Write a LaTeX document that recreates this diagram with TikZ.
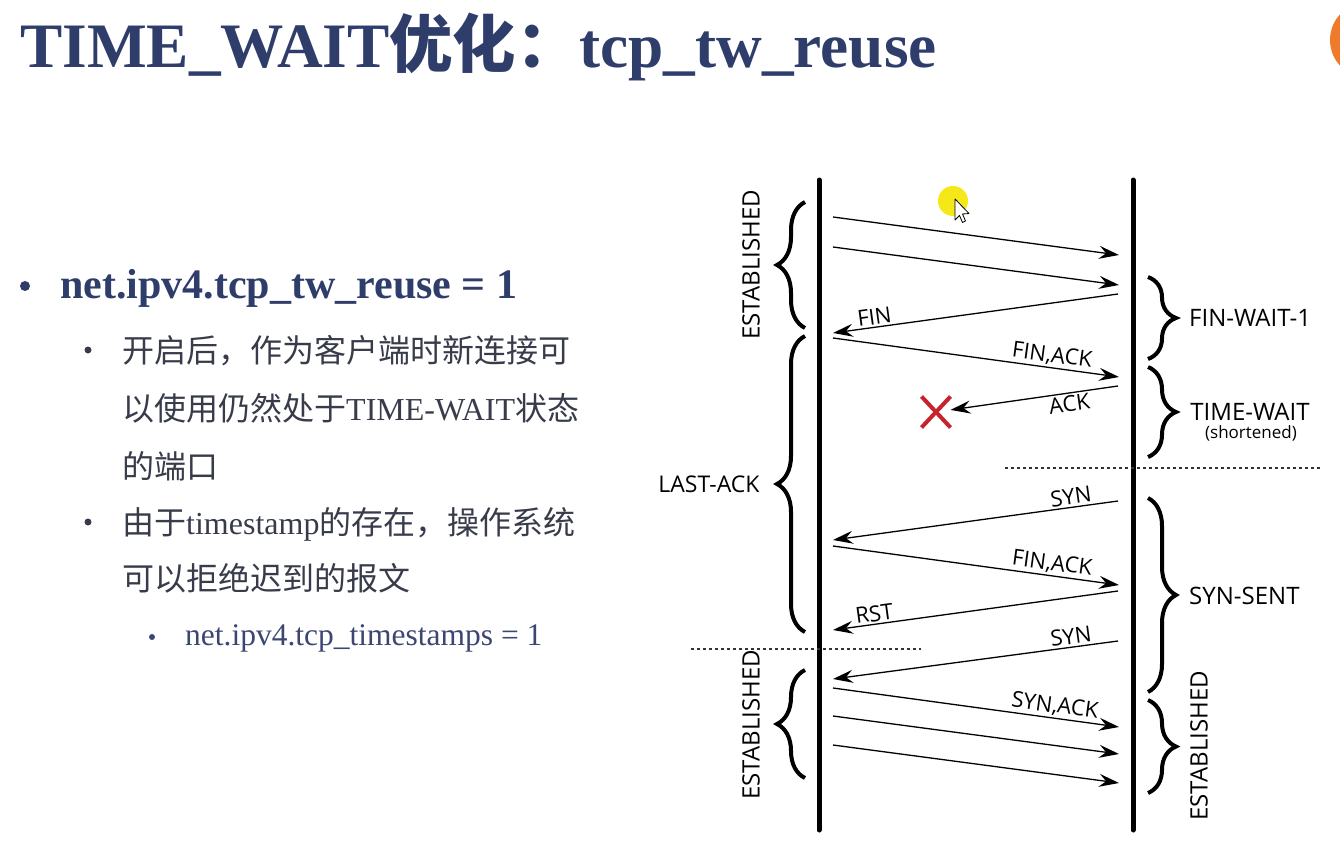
\documentclass[tikz,border=0pt]{standalone}
\usepackage{fontspec}
\setmainfont{Liberation Serif}
\newfontfamily\cjk{Noto Sans CJK SC}
\newfontfamily\diag{Open Sans}
\usetikzlibrary{arrows.meta,decorations.pathreplacing,shapes.misc}
\definecolor{navy}{HTML}{2F3D6B}
\definecolor{subgray}{HTML}{383C4A}
\definecolor{subnavy}{HTML}{3C4672}
\definecolor{xred}{HTML}{C8232C}
\definecolor{dotorange}{HTML}{EE7B2C}
\definecolor{hilite}{HTML}{F3E600}

\begin{document}
\begin{tikzpicture}[x=1pt,y=-1pt,
  lifeline/.style={line width=5pt, line cap=round},
  msg/.style={line width=1.3pt, -{Stealth[length=20pt,width=13pt,inset=7pt]}},
  lbl/.style={font=\diag\fontsize{22}{26}\selectfont, sloped, inner sep=2pt},
  statelbl/.style={font=\diag\fontsize{24}{28}\selectfont, inner sep=0pt},
  curly/.style={decorate, decoration={brace, amplitude=28pt}, line width=4pt},
  sepline/.style={line width=1.2pt, dash pattern=on 3pt off 3pt, black!80},
  dotbullet/.style={circle, inner sep=0pt, minimum size=#1},
  body/.style={anchor=base west, inner sep=0pt},
]
\useasboundingbox (0,0) rectangle (1340,859);

% slide heading
\node[body, text=navy, font=\bfseries\fontsize{63.3}{76}\selectfont] (title) at (20,67)
  {TIME\_WAIT{\cjk 优化：}tcp\_tw\_reuse};

% corner decoration
\begin{scope}
  \clip (0,0) rectangle (1340,859);
  \fill[dotorange] (1368,40) circle (38);
\end{scope}

% bullet list
\node[dotbullet=10pt, fill=navy] (b1) at (25,286) {};
\node[body, text=navy, font=\bfseries\fontsize{42}{50}\selectfont] (t1) at (60,298)
  {net.ipv4.tcp\_tw\_reuse = 1};

\node[dotbullet=7pt, fill=subgray] (b2) at (88,350) {};
\begin{scope}[every node/.style={body, text=subgray, font=\fontsize{32}{38}\selectfont}]
  \node (t2a) at (122,362) {\cjk 开启后，作为客户端时新连接可};
  \node (t2b) at (122,420) {{\cjk 以使用仍然处于}TIME-WAIT{\cjk 状态}};
  \node (t2c) at (122,478) {\cjk 的端口};
  \node (t3a) at (122,534) {{\cjk 由于}timestamp{\cjk 的存在，操作系统}};
  \node (t3b) at (122,590) {\cjk 可以拒绝迟到的报文};
\end{scope}
\node[dotbullet=7pt, fill=subgray] (b3) at (88,522) {};

\node[dotbullet=6pt, fill=subnavy] (b4) at (152,637) {};
\node[body, text=subnavy, font=\fontsize{31.5}{38}\selectfont] (t4) at (185,645)
  {net.ipv4.tcp\_timestamps = 1};

% lifelines
\coordinate (ltop) at (819,180);
\coordinate (lbot) at (819,830);
\coordinate (rtop) at (1133,180);
\coordinate (rbot) at (1133,830);
\draw[lifeline] (ltop) -- (lbot);
\draw[lifeline] (rtop) -- (rbot);

% message end points
\coordinate (l1) at (833,217);  \coordinate (r1) at (1119,255);
\coordinate (l2) at (833,247);  \coordinate (r2) at (1119,285);
\coordinate (r3) at (1118,294); \coordinate (l3) at (833,333);
\coordinate (l4) at (833,338);  \coordinate (r4) at (1119,377);
\coordinate (r5) at (1118,386);
\coordinate (r6) at (1118,501); \coordinate (l6) at (833,540);
\coordinate (l7) at (833,546);  \coordinate (r7) at (1119,585);
\coordinate (r8) at (1118,591); \coordinate (l8) at (833,630);
\coordinate (r9) at (1118,641); \coordinate (l9) at (833,679);
\coordinate (l10) at (833,688); \coordinate (r10) at (1119,727);
\coordinate (l11) at (833,716); \coordinate (r11) at (1119,754);
\coordinate (l12) at (833,745); \coordinate (r12) at (1119,783);

% the lost ACK
\node[cross out, draw=xred, line width=4pt, minimum width=25pt, minimum height=27pt, inner sep=0pt] (lost) at (936,412) {};

% messages
\draw[msg] (l1) -- (r1);
\draw[msg] (l2) -- (r2);
\draw[msg] (r3) -- node[lbl, pos=0.85, above] {FIN} (l3);
\draw[msg] (l4) -- node[lbl, pos=0.76, above] {FIN,ACK} (r4);
\draw[msg] (r5) -- node[lbl, pos=0.3, below] {ACK} (lost);
\draw[msg] (r6) -- node[lbl, pos=0.16, above] {SYN} (l6);
\draw[msg] (l7) -- node[lbl, pos=0.76, above] {FIN,ACK} (r7);
\draw[msg] (r8) -- node[lbl, pos=0.85, above] {RST} (l8);
\draw[msg] (r9) -- node[lbl, pos=0.16, above] {SYN} (l9);
\draw[msg] (l10) -- node[lbl, pos=0.77, above] {SYN,ACK} (r10);
\draw[msg] (l11) -- (r11);
\draw[msg] (l12) -- (r12);

% state braces, client side
\coordinate (cb1s) at (805,328); \coordinate (cb1e) at (805,202);
\coordinate (cb2s) at (805,632); \coordinate (cb2e) at (805,336);
\coordinate (cb3s) at (805,778); \coordinate (cb3e) at (805,670);
\draw[curly] (cb1s) -- (cb1e);
\draw[curly] (cb2s) -- (cb2e);
\draw[curly] (cb3s) -- (cb3e);
\node[statelbl, rotate=90] (est1) at (751,265) {ESTABLISHED};
\node[statelbl, font=\diag\fontsize{23}{27}\selectfont] (lastack) at (709,484) {LAST-ACK};
\node[statelbl, rotate=90] (est2) at (751,725) {ESTABLISHED};

% state braces, server side
\coordinate (sb1s) at (1148,277); \coordinate (sb1e) at (1148,359);
\coordinate (sb2s) at (1148,367); \coordinate (sb2e) at (1148,457);
\coordinate (sb3s) at (1148,498); \coordinate (sb3e) at (1148,692);
\coordinate (sb4s) at (1148,700); \coordinate (sb4e) at (1148,793);
\draw[curly] (sb1s) -- (sb1e);
\draw[curly] (sb2s) -- (sb2e);
\draw[curly] (sb3s) -- (sb3e);
\draw[curly] (sb4s) -- (sb4e);
\node[statelbl, anchor=west] (fw1) at (1189,318) {FIN-WAIT-1};
\node[statelbl] (tw) at (1250,412) {TIME-WAIT};
\node[font=\diag\fontsize{17}{20}\selectfont, inner sep=0pt] (short) at (1251,433) {(shortened)};
\node[statelbl, anchor=west] (synsent) at (1189,596) {SYN-SENT};
\node[statelbl, rotate=90] (est3) at (1199,746) {ESTABLISHED};

% phase separators
\coordinate (s1a) at (1005,468); \coordinate (s1b) at (1322,468);
\coordinate (s2a) at (691,649);  \coordinate (s2b) at (921,649);
\draw[sepline] (s1a) -- (s1b);
\draw[sepline] (s2a) -- (s2b);

% pointer with highlight
\fill[hilite, opacity=0.9] (953,201) circle (15);
\draw[fill=white, line width=0.8pt, line join=round]
  (955,199) -- (955,220) -- (959.5,215.5) -- (962.5,222.5) -- (965.5,221) -- (962.5,214) -- (969,213.5) -- cycle;
\end{tikzpicture}
\end{document}
